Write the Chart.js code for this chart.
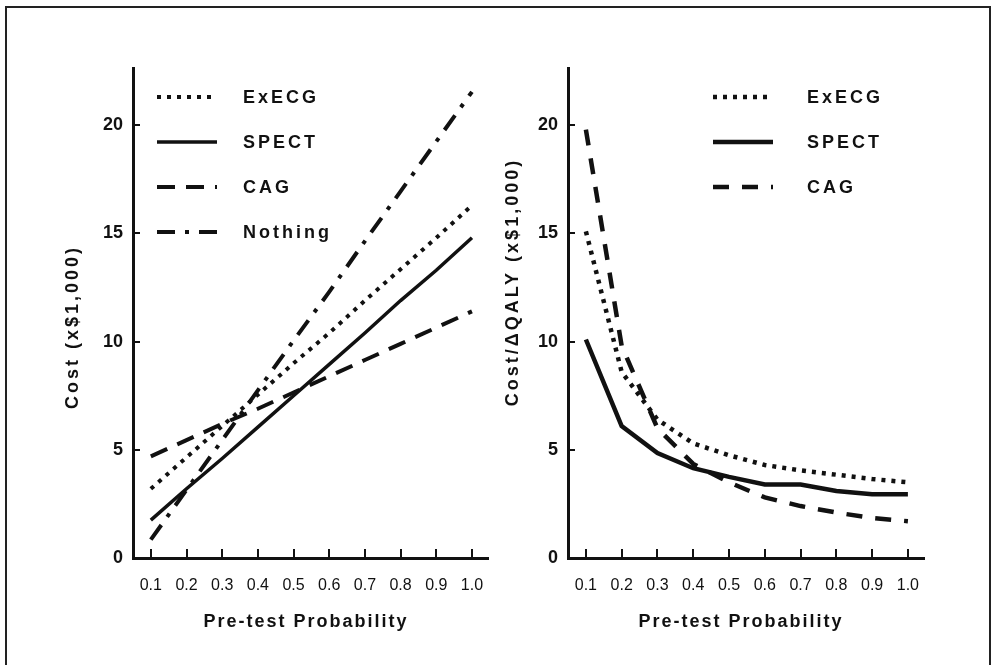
<!DOCTYPE html>
<html>
<head>
<meta charset="utf-8">
<script src="https://cdn.jsdelivr.net/npm/chart.js@4.4.0/dist/chart.umd.min.js"></script>
<style>
  html, body { margin: 0; padding: 0; background: #fff; overflow: hidden; }
  body { width: 991px; height: 665px; position: relative; }
  .frame { position: absolute; left: 5px; top: 6px; width: 982px; height: 700px; border: 2px solid #222; }
  canvas { position: absolute; top: 0; }
  #costChart { left: 0; }
  #ratioChart { left: 495px; }
</style>
</head>
<body>
<div class="frame"></div>
<canvas id="costChart" width="520" height="665"></canvas>
<canvas id="ratioChart" width="496" height="665"></canvas>
<script>
// x positions (pre-test probability) and axis ticks
const probTicks = [0.1, 0.2, 0.3, 0.4, 0.5, 0.6, 0.7, 0.8, 0.9, 1.0];
const probLabels = ["0.1", "0.2", "0.3", "0.4", "0.5", "0.6", "0.7", "0.8", "0.9", "1.0"];
const valueTicks = [0, 5, 10, 15, 20];

// left panel: cost (x$1,000)
const costExecg   = [3.2, 4.65, 6.1, 7.55, 9.0, 10.4, 11.9, 13.35, 14.8, 16.3];
const costSpect   = [1.75, 3.2, 4.6, 6.05, 7.5, 8.95, 10.4, 11.9, 13.3, 14.8];
const costCag     = [4.7, 5.45, 6.2, 6.9, 7.65, 8.4, 9.15, 9.9, 10.65, 11.4];
const costNothing = [0.85, 3.15, 5.45, 7.75, 10.05, 12.3, 14.65, 16.95, 19.25, 21.55];

// right panel: cost / delta QALY (x$1,000)
const ratioExecg = [15.1, 8.6, 6.4, 5.3, 4.75, 4.3, 4.05, 3.85, 3.65, 3.5];
const ratioSpect = [10.1, 6.1, 4.85, 4.15, 3.75, 3.4, 3.4, 3.1, 2.95, 2.95];
const ratioCag   = [19.8, 9.8, 6.0, 4.35, 3.5, 2.8, 2.4, 2.1, 1.85, 1.7];

const FONT = "'Liberation Sans', Arial, Helvetica, sans-serif";
const INK = "#111111";

Chart.defaults.font.family = FONT;
Chart.defaults.color = INK;

function points(values) {
  return values.map((v, i) => ({ x: probTicks[i], y: v }));
}

function lineSet(label, values, width, dash) {
  return {
    label: label,
    data: points(values),
    borderColor: INK,
    borderWidth: width,
    borderDash: dash,
    borderCapStyle: "butt",
    pointRadius: 0,
    tension: 0,
    fill: false
  };
}

// legend drawn as line samples with the dataset's own dash
const lineLegend = {
  id: "lineLegend",
  afterDraw(chart, args, opts) {
    const ctx = chart.ctx;
    ctx.save();
    ctx.font = "bold 18px " + FONT;
    ctx.letterSpacing = "3px";
    ctx.fillStyle = INK;
    ctx.textAlign = "left";
    ctx.textBaseline = "middle";
    chart.data.datasets.forEach((ds, i) => {
      const y = opts.top + i * opts.step;
      ctx.save();
      ctx.strokeStyle = ds.borderColor;
      ctx.lineWidth = ds.borderWidth;
      ctx.lineCap = "butt";
      ctx.setLineDash(ds.borderDash || []);
      ctx.beginPath();
      ctx.moveTo(opts.left, y);
      ctx.lineTo(opts.left + opts.length, y);
      ctx.stroke();
      ctx.restore();
      ctx.fillText(ds.label, opts.textLeft, y + 1);
    });
    ctx.restore();
  }
};

// axis titles (spaced lettering like the original figure)
const axisTitles = {
  id: "axisTitles",
  afterDraw(chart, args, opts) {
    const ctx = chart.ctx;
    opts.items.forEach(t => {
      ctx.save();
      ctx.font = "bold 18px " + FONT;
      ctx.letterSpacing = t.rotate ? "3px" : "2px";
      ctx.fillStyle = INK;
      ctx.textAlign = "center";
      ctx.textBaseline = "middle";
      ctx.translate(t.x, t.y);
      if (t.rotate) ctx.rotate(-Math.PI / 2);
      ctx.fillText(t.text, 0, 0);
      ctx.restore();
    });
  }
};

// tick marks pointing into the plot, placed by the scales
const innerTicks = {
  id: "innerTicks",
  afterDraw(chart) {
    const ctx = chart.ctx;
    const area = chart.chartArea;
    const xs = chart.scales.x;
    const ys = chart.scales.y;
    ctx.save();
    ctx.strokeStyle = INK;
    ctx.lineWidth = 2;
    ctx.beginPath();
    xs.ticks.forEach(t => {
      const px = Math.round(xs.getPixelForValue(t.value));
      ctx.moveTo(px, area.bottom);
      ctx.lineTo(px, area.bottom - 9);
    });
    ys.ticks.forEach(t => {
      if (t.value === 0) return;
      const py = Math.round(ys.getPixelForValue(t.value));
      ctx.moveTo(area.left, py);
      ctx.lineTo(area.left + 7, py);
    });
    ctx.stroke();
    ctx.restore();
  }
};

function makeOptions(yWidth, padRight, legendOpts, titleItems) {
  return {
    responsive: false,
    animation: false,
    layout: { autoPadding: false, padding: { left: 0, right: padRight, top: 68, bottom: 0 } },
    plugins: {
      legend: { display: false },
      tooltip: { enabled: false },
      lineLegend: legendOpts,
      axisTitles: { items: titleItems }
    },
    scales: {
      x: {
        type: "linear",
        min: 0.05,
        max: 1.045,
        afterBuildTicks: s => { s.ticks = probTicks.map(v => ({ value: v })); },
        afterFit: s => { s.height = 107; },
        border: { display: true, color: INK, width: 3 },
        grid: { display: true, drawOnChartArea: false, drawTicks: false },
        ticks: {
          color: INK,
          font: { size: 16 },
          padding: 18,
          maxRotation: 0,
          autoSkip: false,
          callback: (v, i) => probLabels[i]
        }
      },
      y: {
        type: "linear",
        min: 0,
        max: 22.65,
        afterBuildTicks: s => { s.ticks = valueTicks.map(v => ({ value: v })); },
        afterFit: s => { s.width = yWidth; },
        border: { display: true, color: INK, width: 3 },
        grid: { display: true, drawOnChartArea: false, drawTicks: false },
        ticks: {
          color: INK,
          font: { size: 18, weight: "bold" },
          padding: 10,
          callback: v => String(v)
        }
      }
    }
  };
}

new Chart(document.getElementById("costChart").getContext("2d"), {
  type: "line",
  data: {
    datasets: [
      lineSet("ExECG", costExecg, 4, [4, 6]),
      lineSet("SPECT", costSpect, 3.5, []),
      lineSet("CAG", costCag, 4, [18, 11]),
      lineSet("Nothing", costNothing, 4, [18, 10, 4, 10])
    ]
  },
  options: makeOptions(133, 32,
    { left: 157, length: 60, textLeft: 243, top: 97, step: 45 },
    [
      { text: "Cost (x$1,000)", x: 73, y: 327, rotate: true },
      { text: "Pre-test Probability", x: 306, y: 622, rotate: false }
    ]),
  plugins: [lineLegend, axisTitles, innerTicks]
});

new Chart(document.getElementById("ratioChart").getContext("2d"), {
  type: "line",
  data: {
    datasets: [
      lineSet("ExECG", ratioExecg, 4.5, [4, 6]),
      lineSet("SPECT", ratioSpect, 4.5, []),
      lineSet("CAG", ratioCag, 4.5, [16, 13])
    ]
  },
  options: makeOptions(73, 67,
    { left: 218, length: 60, textLeft: 312, top: 97, step: 45 },
    [
      { text: "Cost/\u0394QALY (x$1,000)", x: 18, y: 282, rotate: true },
      { text: "Pre-test Probability", x: 246, y: 622, rotate: false }
    ]),
  plugins: [lineLegend, axisTitles, innerTicks]
});
</script>
</body>
</html>
